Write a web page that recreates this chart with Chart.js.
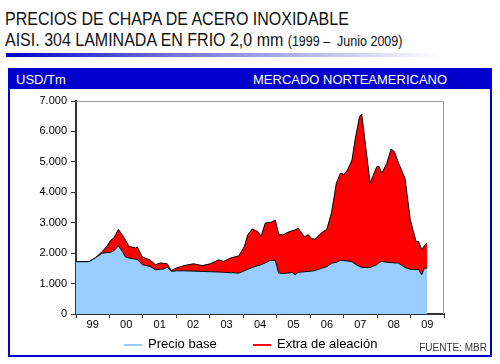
<!DOCTYPE html>
<html>
<head>
<meta charset="utf-8">
<script src="https://cdn.jsdelivr.net/npm/chart.js@4/dist/chart.umd.min.js"></script>
<style>
  body { margin: 0; background: #fff; font-family: "Liberation Sans", Arial, sans-serif; }
  #page { position: relative; width: 500px; height: 364px; overflow: hidden; }
  .titulo { position: absolute; left: 5px; font-size: 16px; color: #111; white-space: nowrap;
            transform: scale(1, 1.2); transform-origin: left top; }
  .titulo small { font-size: 12.5px; }
  #barra { position: absolute; left: 6px; top: 53px; width: 436px; height: 4px;
           background: linear-gradient(to right, #0000cc, #6a6ad8 35%, #ffffff); }
  #caja { position: absolute; left: 8px; top: 68px; width: 480px; height: 285px; border: 2px solid #0000cc; }
  #cabecera { position: absolute; left: 0; top: 0; width: 480px; height: 19px; background: #0000cc;
              color: #fff; font-size: 13px; line-height: 19px; }
  #cabecera .izq { position: absolute; left: 6px; }
  #cabecera .der { position: absolute; left: 243px; }
  #grafico { position: absolute; left: 0; top: 89px; }
  .leyenda { position: absolute; top: 336px; font-size: 13px; color: #000; white-space: nowrap; }
  .leyenda i { display: inline-block; width: 18px; height: 2px; vertical-align: middle; margin-right: 6px; }
  #fuente { position: absolute; right: 13px; top: 342px; font-size: 10px; color: #333; }
</style>
</head>
<body>
<div id="page">
  <div class="titulo" style="top:8px">PRECIOS DE CHAPA DE ACERO INOXIDABLE</div>
  <div class="titulo" style="top:29px">AISI. 304 LAMINADA EN FRIO 2,0 mm <small>(1999 –&nbsp; Junio 2009)</small></div>
  <div id="barra"></div>
  <div id="caja">
    <div id="cabecera"><span class="izq">USD/Tm</span><span class="der">MERCADO NORTEAMERICANO</span></div>
  </div>
  <canvas id="grafico" width="500" height="250"></canvas>
  <div class="leyenda" style="left:124px"><i style="background:#99ccff"></i>Precio base</div>
  <div class="leyenda" style="left:253px"><i style="background:#ff0000"></i>Extra de aleación</div>
  <div id="fuente">FUENTE: MBR</div>
</div>

<script>
// meses desde enero 1999
const meses = [0, 4.7, 7, 9.4, 11.2, 12.4, 13.6, 15.2, 16.6, 17.8, 19, 21.4, 22, 23.8, 26.5, 28.5,
  30.3, 31.5, 32.7, 34.2, 36, 38.7, 42.2, 45.3, 48.2, 51.2, 53, 55.4, 58.4, 60.4, 61.6, 63.2,
  65.2, 66.4, 67.9, 69.7, 71.5, 72.7, 74.2, 75.8, 77.5, 78.6, 79.7, 82, 83.3, 84.6, 85.8, 88,
  90, 91.7, 93.4, 94.7, 95.4, 96, 97.4, 99, 100.2, 101.7, 102.5, 105.5, 107.9, 108.7, 109.7,
  111.5, 113, 114.2, 115.7, 118, 119.9, 121, 122, 122.9, 124, 125, 126];

const precioBase = [1720, 1720, 1850, 2000, 2020, 2020, 2080, 2240, 2060, 1870, 1840, 1800, 1790, 1620, 1565, 1454,
  1470, 1480, 1540, 1400, 1420, 1420, 1410, 1400, 1390, 1380, 1370, 1360, 1345, 1420, 1470, 1530,
  1590, 1620, 1680, 1760, 1760, 1345, 1330, 1340, 1366, 1290, 1366, 1390, 1400, 1410, 1430, 1500,
  1560, 1670, 1700, 1760, 1760, 1760, 1740, 1720, 1640, 1560, 1530, 1530, 1620, 1690, 1727,
  1700, 1690, 1680, 1673, 1530, 1470, 1460, 1460, 1460, 1290, 1510, 1510];

const extraAleacion = [0, 0, 0, 50, 220, 400, 420, 540, 540, 550, 380, 370, 410, 250, 215, 166,
  210, 180, 110, 30, 90, 170, 240, 190, 260, 400, 360, 480, 565, 800, 1130, 1260,
  1120, 930, 1310, 1246, 1320, 1275, 1270, 1340, 1368, 1470, 1456, 1140, 1210, 1060, 1031, 1158,
  1230, 1680, 2600, 2840, 2867, 2810, 2996, 3344, 4136, 4925, 5030, 2770, 3225, 3155, 2900,
  3256, 3725, 3657, 3283, 2933, 1630, 1252, 923, 923, 820, 740, 820];

const etiquetasAnio = ['99', '00', '01', '02', '03', '04', '05', '06', '07', '08', '09'];

const formatoMiles = v => v >= 1000 ? Math.floor(v / 1000) + '.' + String(v % 1000).padStart(3, '0') : String(v);

// borde gris arriba y a la derecha del area de trazado
const bordeArea = {
  id: 'bordeArea',
  afterDraw(chart) {
    const { ctx, chartArea: a } = chart;
    ctx.save();
    ctx.strokeStyle = '#999';
    ctx.lineWidth = 1;
    ctx.beginPath();
    ctx.moveTo(a.left, a.top + 0.5);
    ctx.lineTo(a.right - 0.5, a.top + 0.5);
    ctx.lineTo(a.right - 0.5, a.bottom);
    ctx.stroke();
    ctx.restore();
  }
};

new Chart(document.getElementById('grafico'), {
  type: 'line',
  data: {
    datasets: [{
      label: 'Precio base',
      data: meses.map((m, i) => ({ x: m, y: precioBase[i] })),
      backgroundColor: '#99ccff',
      borderColor: '#000',
      borderWidth: 1,
      fill: 'origin'
    }, {
      label: 'Extra de aleación',
      data: meses.map((m, i) => ({ x: m, y: extraAleacion[i] })),
      backgroundColor: '#ff0000',
      borderColor: '#000',
      borderWidth: 1,
      fill: '-1'
    }]
  },
  options: {
    responsive: false,
    animation: false,
    elements: { point: { radius: 0 }, line: { tension: 0 } },
    layout: { padding: { left: 0, right: 56, top: 12, bottom: 0 } },
    plugins: { legend: { display: false }, tooltip: { enabled: false } },
    scales: {
      x: {
        type: 'linear',
        min: 0, max: 132,
        afterFit: s => { s.height = 25; },
        border: { color: '#333', width: 2 },
        grid: {
          drawOnChartArea: false,
          tickLength: 4,
          tickColor: c => (c.tick && c.tick.value % 12 === 0) ? '#333' : 'rgba(0,0,0,0)'
        },
        ticks: {
          stepSize: 6,
          autoSkip: false,
          maxRotation: 0,
          padding: 0,
          color: '#000',
          font: { family: 'Liberation Sans, Arial', size: 11 },
          callback: v => v % 12 === 6 ? etiquetasAnio[(v - 6) / 12] : ''
        }
      },
      y: {
        stacked: true,
        min: 0, max: 7000,
        afterFit: s => { s.width = 76; },
        border: { color: '#333', width: 2 },
        grid: { drawOnChartArea: false, tickLength: 5, tickColor: '#333' },
        ticks: {
          stepSize: 500,
          padding: 4,
          color: '#000',
          font: { family: 'Liberation Sans, Arial', size: 11 },
          callback: formatoMiles
        }
      }
    }
  },
  plugins: [bordeArea]
});
</script>
</body>
</html>
